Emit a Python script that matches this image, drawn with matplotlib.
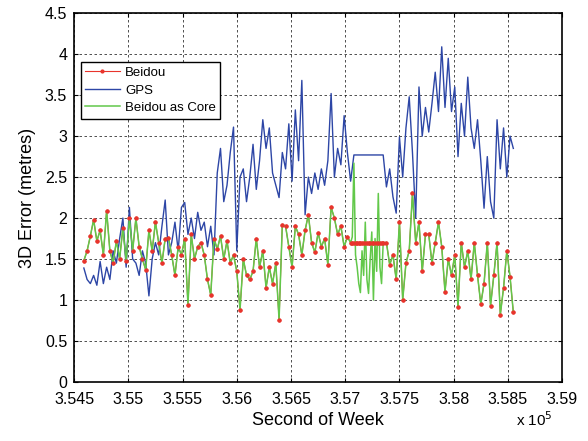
import matplotlib.pyplot as plt
import numpy as np

plt.rcParams['font.family'] = ['Liberation Sans', 'DejaVu Sans']

# Second of week, 30 s epochs
t0 = 354590
step = 30

beidou = [1.48, 1.60, 1.78, 1.98, 1.72, 1.85, 1.55, 2.09, 1.60, 1.45,
          1.72, 1.50, 1.88, 1.47, 2.00, 1.60, 2.00, 1.65, 1.50, 1.37,
          1.85, 1.60, 1.95, 1.70, 1.45, 1.75, 1.76, 1.55, 1.30, 1.65,
          1.55, 1.75, 0.94, 1.80, 1.50, 1.65, 1.70, 1.55, 1.25, 1.06,
          1.75, 1.62, 1.78, 1.50, 1.72, 1.45, 1.55, 1.35, 0.88, 1.50,
          1.30, 1.25, 1.35, 1.75, 1.40, 1.60, 1.15, 1.40, 1.20, 1.45,
          0.76, 1.92, 1.90, 1.65, 1.40, 1.90, 1.80, 1.55, 1.85, 2.04,
          1.70, 1.58, 1.82, 1.65, 1.75, 1.43, 2.13, 2.00, 1.80, 1.90,
          1.65, 1.77, 1.70, 1.70, 1.70, 1.70, 1.70, 1.70, 1.70, 1.70,
          1.70, 1.70, 1.70, 1.70, 1.43, 1.55, 1.25, 1.95, 1.00, 1.45,
          1.60, 2.30, 1.70, 1.95, 1.35, 1.80, 1.80, 1.45, 1.70, 1.95,
          1.65, 1.10, 1.50, 1.30, 1.55, 0.92, 1.70, 1.40, 1.60, 1.25,
          1.70, 1.30, 0.95, 1.20, 1.70, 0.93, 1.30, 1.70, 0.82, 1.15,
          1.60, 1.28, 0.85]

gps = [1.39, 1.25, 1.20, 1.30, 1.18, 1.47, 1.20, 1.40, 1.25, 1.60,
       1.45, 1.75, 2.00, 1.40, 2.13, 1.50, 1.45, 1.30, 1.60, 1.45,
       1.05, 1.50, 1.70, 1.55, 1.90, 2.22, 1.55, 1.70, 1.95, 1.60,
       2.13, 2.19, 1.80, 2.00, 1.75, 2.07, 1.85, 1.95, 1.65, 1.90,
       1.55, 2.55, 2.85, 2.20, 2.40, 2.80, 3.11, 1.60, 2.50, 2.60,
       2.20, 2.50, 2.90, 2.35, 2.70, 3.20, 2.85, 3.10, 2.55, 2.40,
       2.25, 2.80, 2.60, 3.15, 2.45, 3.32, 2.70, 3.68, 2.04, 2.50,
       2.30, 2.55, 2.35, 2.60, 2.40, 2.70, 3.52, 2.50, 2.85, 2.65,
       3.25, 2.80, 2.45, 2.77, 2.77, 2.77, 2.77, 2.77, 2.77, 2.77,
       2.77, 2.77, 2.77, 2.38, 2.60, 2.26, 2.06, 2.99, 2.50, 3.10,
       3.48, 2.80, 2.00, 3.60, 3.00, 3.35, 3.05, 3.40, 3.78, 3.30,
       4.09, 3.35, 3.95, 3.30, 3.60, 2.75, 3.40, 3.00, 3.72, 3.10,
       2.85, 3.20, 2.70, 2.12, 2.75, 2.20, 2.00, 3.20, 2.60, 3.10,
       2.50, 3.00, 2.85]

# Beidou outage period (15 s epochs): Beidou holds, core solution keeps going
gap_t0 = 357050
gap_step = 15
core_gap = [1.70, 1.77, 2.67, 1.55, 1.40, 1.20, 1.09, 1.60, 1.30, 1.95,
            1.25, 1.08, 1.50, 1.83, 1.00, 1.75, 1.35, 2.30, 1.40, 1.20, 1.70]
beidou_gap = [1.70] * 21

t = t0 + step * np.arange(len(beidou))
tg = gap_t0 + gap_step * np.arange(len(core_gap))
beidou = np.array(beidou)
before = t < gap_t0
after = t > tg[-1]
t_bd = np.concatenate([t[before], tg, t[after]])
bd = np.concatenate([beidou[before], beidou_gap, beidou[after]])
core = np.concatenate([beidou[before], core_gap, beidou[after]])

red = '#e8342c'
blue = '#2d46a6'
green = '#62c84a'

fig = plt.figure(figsize=(5.88, 4.41), dpi=100)
ax = fig.add_axes([0.126, 0.134, 0.830, 0.836])

ax.plot(t_bd, bd, '-', color=red, lw=0.8, marker='.', ms=4, label='Beidou', zorder=2)
ax.plot(t, gps, '-', color=blue, lw=1.0, label='GPS', zorder=2)
ax.plot(t_bd, core, '-', color=green, lw=1.1, label='Beidou as Core', zorder=3)
ax.plot(t_bd, bd, linestyle='None', marker='.', ms=4, color=red, zorder=4)

ax.set_xlim(354500, 359000)
ax.set_ylim(0, 4.5)
xt = np.arange(354500, 359001, 500)
ax.set_xticks(xt)
ax.set_xticklabels([f'{v / 1e5:g}' for v in xt])
yt = np.arange(0, 4.51, 0.5)
ax.set_yticks(yt)
ax.set_yticklabels([f'{v:g}' for v in yt])
ax.tick_params(direction='in', length=3, labelsize=11.5, top=True, right=True, colors='black')
ax.tick_params(axis='x', pad=7)
ax.tick_params(axis='y', pad=5)
ax.grid(True, color='black', linestyle=(0, (3, 3)), linewidth=0.6, alpha=0.8)
for s in ax.spines.values():
    s.set_linewidth(1.2)

ax.set_xlabel('Second of Week', fontsize=13, labelpad=4)
ax.set_ylabel('3D Error (metres)', fontsize=13, labelpad=6)
fig.text(0.878, 0.033, r'x 10$^5$', fontsize=11)

leg = ax.legend(loc='upper left', bbox_to_anchor=(0.0, 0.885), fontsize=9.5,
                fancybox=False, edgecolor='black', framealpha=1,
                borderpad=0.35, labelspacing=0.4, handlelength=2.6,
                handletextpad=0.4)
leg.get_frame().set_linewidth(1.0)

fig.savefig('out.png', dpi=100)
